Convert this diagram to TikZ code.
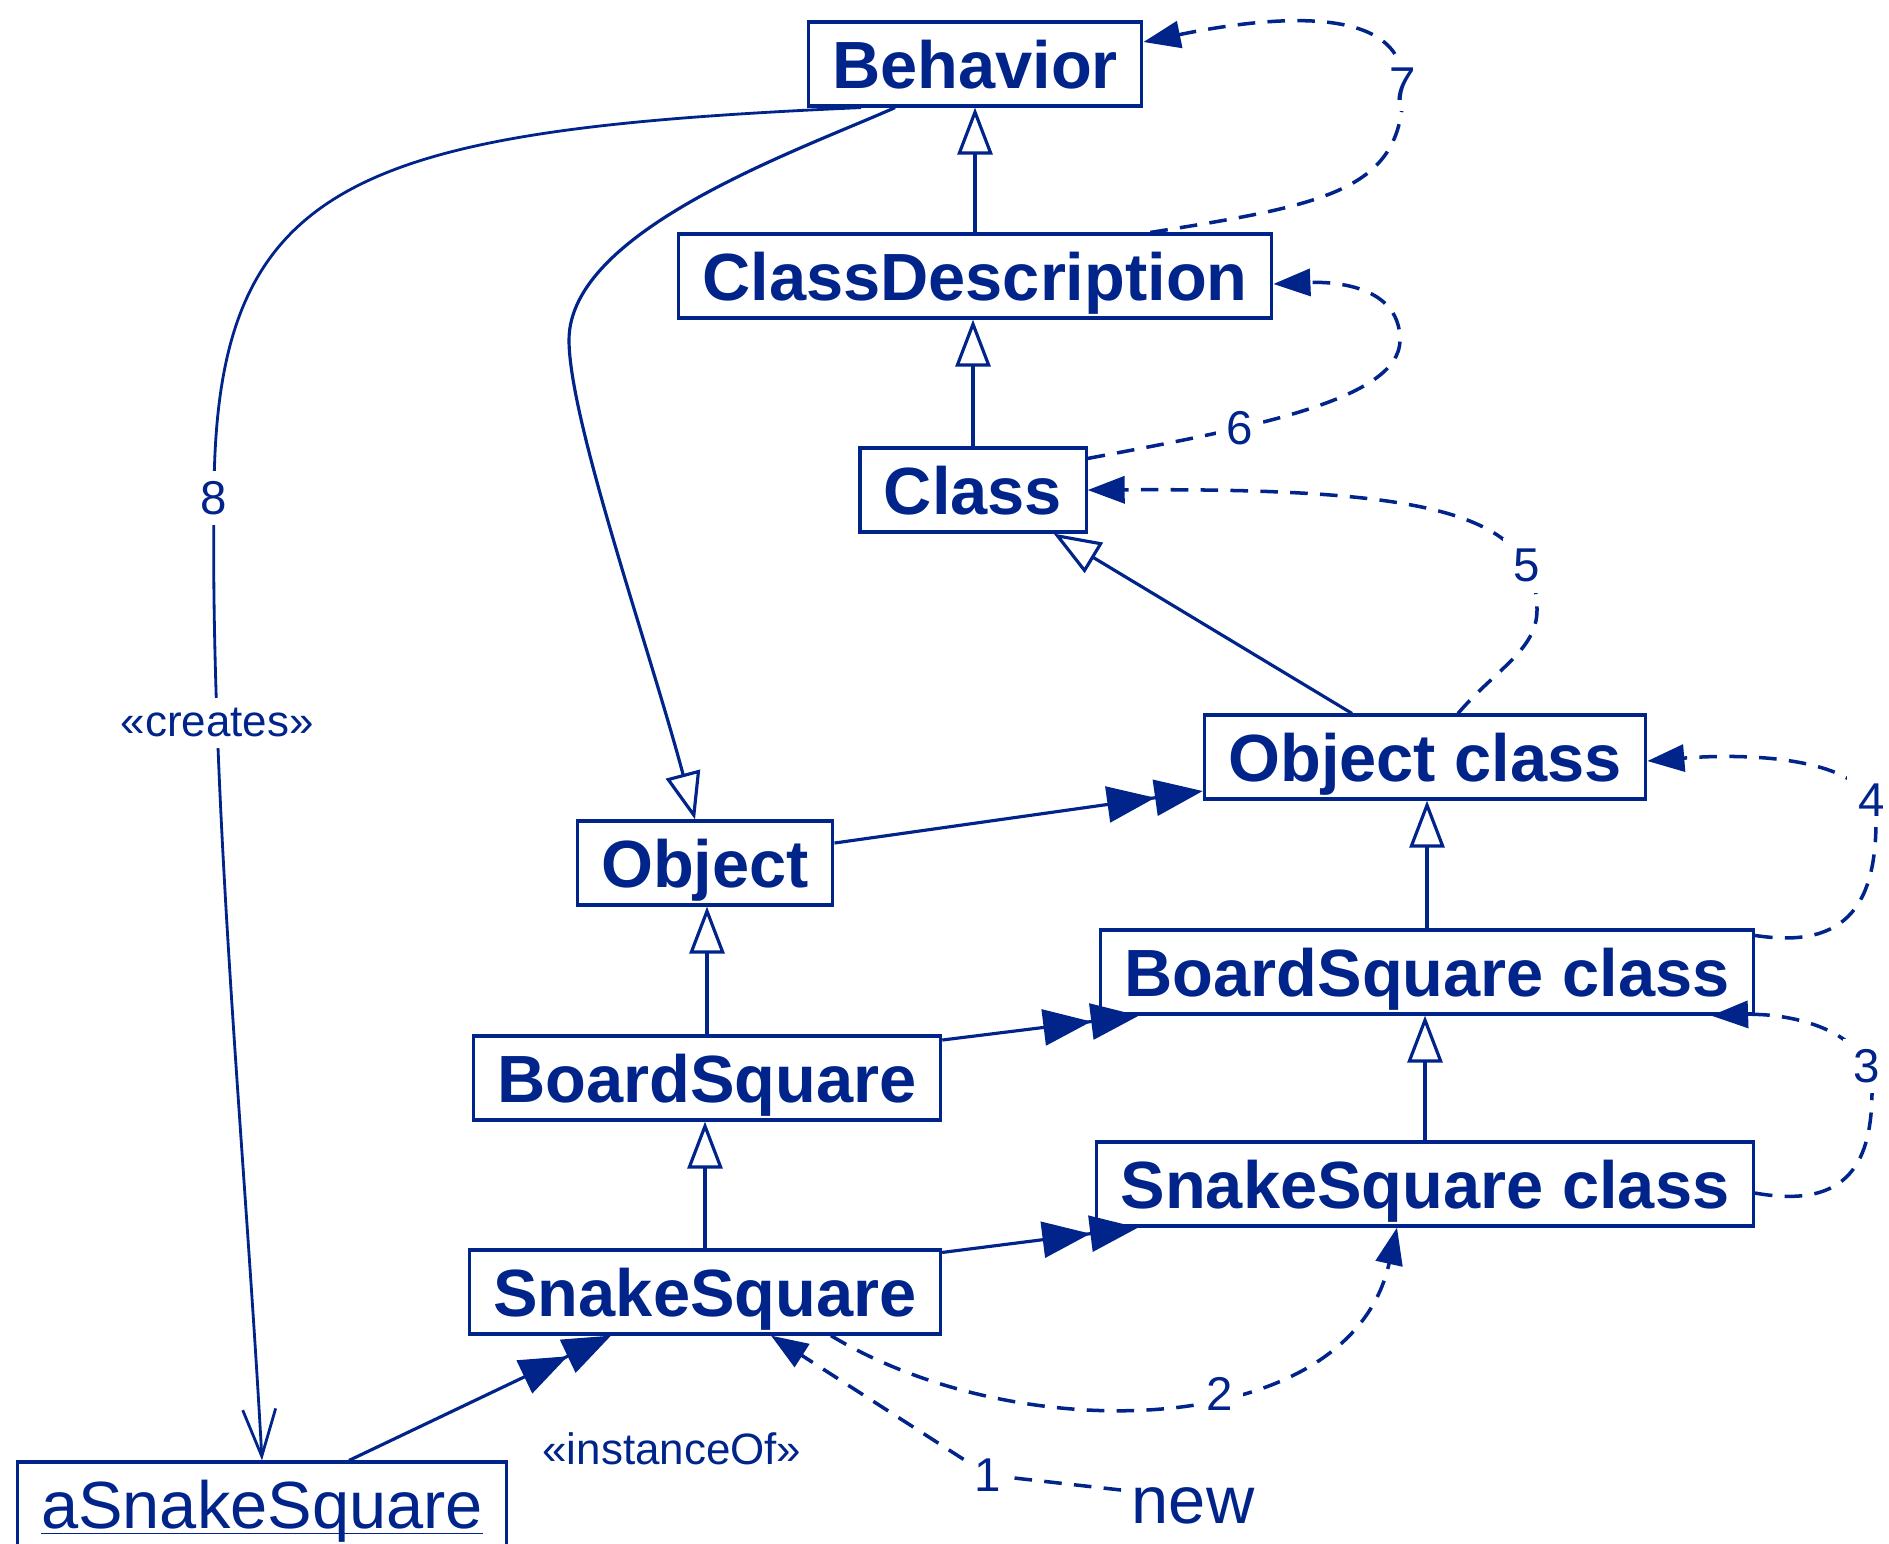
\documentclass[tikz,border=0pt]{standalone}
\usepackage{fontspec}
\setmainfont{Liberation Sans}
\usetikzlibrary{arrows.meta}
\definecolor{umlblue}{RGB}{0,36,138}

\begin{document}
\begin{tikzpicture}[color=umlblue,
	class_node/.style={draw,line width=0.9pt,font=\fontsize{19}{22}\selectfont\bfseries,text height=0.49cm,text depth=0cm,inner xsep=0.24cm,inner ysep=0.175cm},
	inst_node/.style={class_node,font=\fontsize{19}{22}\selectfont},
	lbl/.style={fill=white,inner sep=3pt,font=\fontsize{13.5}{15}\selectfont},
	stereo/.style={inner sep=1pt,font=\fontsize{12.5}{14}\selectfont},
	gen/.style={line width=0.9pt,-{Triangle[open,fill=white,length=0.47cm,width=0.35cm]}},
	inst/.style={line width=0.9pt,-{Triangle[length=0.48cm,width=0.36cm]Triangle[length=0.48cm,width=0.36cm]}},
	msg/.style={line width=1pt,dash pattern=on 5pt off 3.5pt,-{Triangle[length=0.37cm,width=0.27cm]}},
	creates/.style={line width=0.8pt,-{Straight Barb[length=0.47cm,width=0.33cm]}}]
	\useasboundingbox (0,0) rectangle (18.89,-15.43);
	\node[class_node] (beh) at (9.75,-0.64) {Behavior};
	\node[class_node] (cd) at (9.75,-2.76) {ClassDescription};
	\node[class_node] (cls) at (9.73,-4.90) {Class};
	\node[class_node] (objc) at (14.25,-7.57) {Object class};
	\node[class_node] (obj) at (7.05,-8.63) {Object};
	\node[class_node] (bsc) at (14.27,-9.72) {BoardSquare class};
	\node[class_node] (bs) at (7.07,-10.78) {BoardSquare};
	\node[class_node] (ssc) at (14.25,-11.84) {SnakeSquare class};
	\node[class_node] (ss) at (7.05,-12.92) {SnakeSquare};
	\node[inst_node] (asnake) at (2.62,-15.04) {\underline{\smash{aSnakeSquare}}};
	\node[inner sep=0.1cm,font=\fontsize{19}{22}\selectfont] (new) at (11.93,-15.06) {new};
	\node[lbl] (one) at (9.88,-14.75) {1};
	\node[stereo] (instof) at (6.72,-14.49) {«instanceOf»};

	\draw[gen] (cd.north) -- (cd.north |- beh.south);
	\draw[gen] (cls.north) -- (cls.north |- cd.south);
	\draw[gen] ([xshift=-0.73cm]objc.north) -- ([xshift=-0.34cm]cls.south east);
	\draw[gen] (bs.north) -- (bs.north |- obj.south);
	\draw[gen] (ss.north) -- (ss.north |- bs.south);
	\draw[gen] (bsc.north) -- (bsc.north |- objc.south);
	\draw[gen] (ssc.north) -- (ssc.north |- bsc.south);
	\draw[gen] ([xshift=-0.80cm]beh.south) .. controls (8.00,-1.50) and (5.69,-2.30) .. (5.69,-3.40)
		.. controls (5.69,-4.20) and (6.50,-6.50) .. ([xshift=-0.10cm]obj.north);

	\draw[inst] ([yshift=0.2cm]obj.east) -- ([yshift=-0.34cm]objc.west);
	\draw[inst] ([yshift=0.38cm]bs.east) -- ([xshift=0.4cm]bsc.south west);
	\draw[inst] ([yshift=-0.04cm]ss.north east) -- ([xshift=0.43cm]ssc.south west);
	\draw[inst] ([xshift=0.87cm]asnake.north) -- ([xshift=-0.94cm]ss.south);

	\draw[creates] ([xshift=-1.14cm]beh.south) .. controls (3.50,-1.30) and (2.14,-1.80) .. (2.14,-4.98) node[lbl] {8}
		.. controls (2.10,-8.00) and (2.45,-11.50) .. node[stereo,fill=white,inner sep=3pt,pos=0.24] {«creates»} (asnake.north);

	\draw[msg] (new.west |- 11.2,-14.90) -- (one) -- ([xshift=0.66cm]ss.south);
	\draw[msg] ([xshift=1.26cm]ss.south) .. controls (10.20,-14.50) and (13.50,-14.40) .. node[lbl,pos=0.58] {2} ([xshift=-0.28cm]ssc.south);
	\draw[msg] ([yshift=-0.09cm]ssc.east) .. controls (18.50,-12.10) and (18.72,-11.60) .. (18.72,-10.90)
		.. controls (18.72,-10.30) and (17.90,-10.13) .. node[lbl,pos=0.15] {3} ([xshift=-0.44cm]bsc.south east);
	\draw[msg] ([yshift=-0.07cm]bsc.north east) .. controls (18.50,-9.50) and (18.76,-9.00) .. (18.76,-8.20)
		.. controls (18.76,-7.60) and (17.60,-7.52) .. node[lbl,pos=0.12] {4} ([yshift=-0.04cm]objc.east);
	\draw[msg] ([xshift=0.33cm]objc.north) .. controls (14.95,-6.70) and (15.37,-6.50) .. (15.37,-6.10)
		.. controls (15.37,-5.10) and (14.20,-4.88) .. node[lbl,pos=0.17] {5} (cls.east);
	\draw[msg] ([yshift=-0.12cm]cls.north east) .. controls (12.50,-4.28) and (14.00,-4.00) .. node[lbl,pos=0.33] {6} (14.00,-3.40)
		.. controls (14.00,-2.80) and (13.20,-2.82) .. ([yshift=-0.08cm]cd.east);
	\draw[msg] ([xshift=-1.23cm]cd.north east) .. controls (13.30,-2.04) and (14.05,-1.90) .. (14.03,-0.84) node[lbl] {7}
		.. controls (14.03,0.0) and (12.60,-0.18) .. ([yshift=0.22cm]beh.east);
\end{tikzpicture}
\end{document}
